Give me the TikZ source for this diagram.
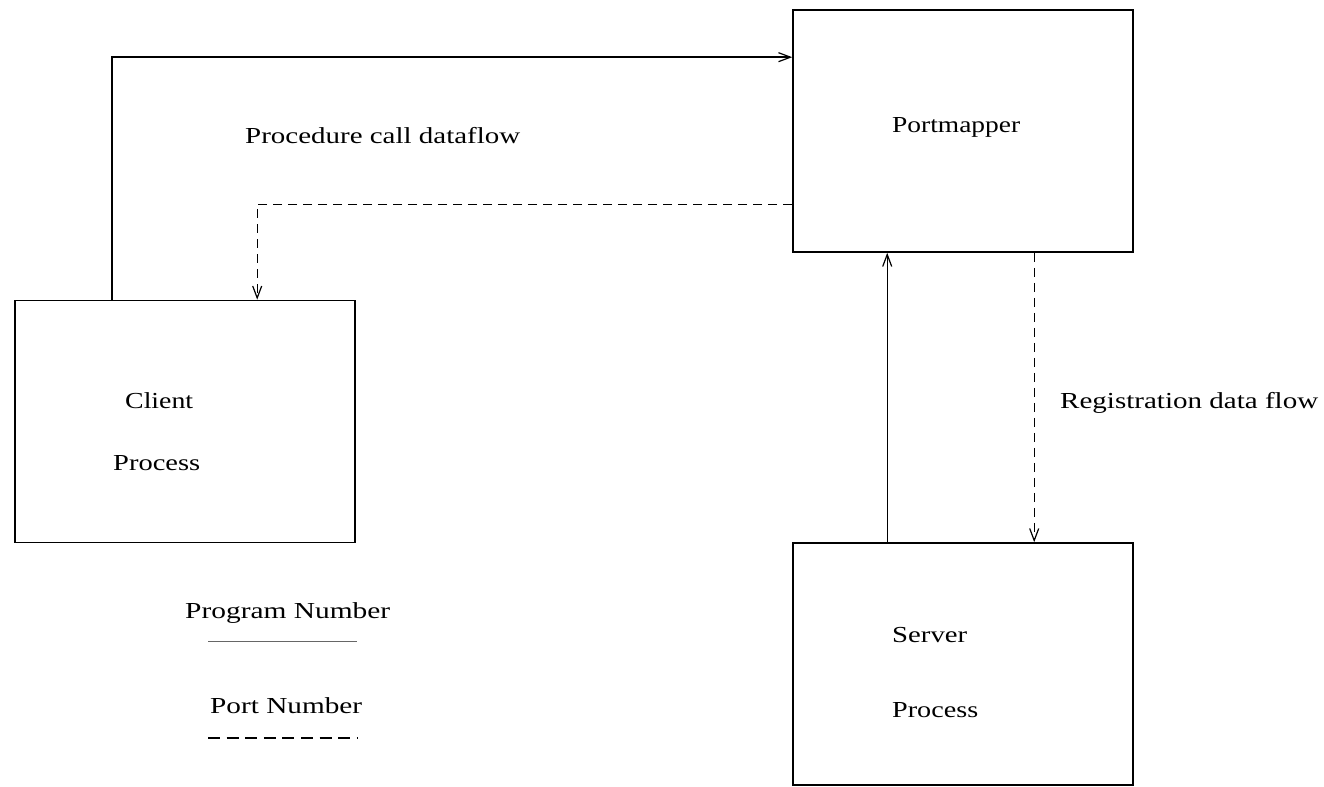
\documentclass[tikz,border=0pt]{standalone}
\usepackage{fontspec}
\setmainfont{Liberation Serif}
\usetikzlibrary{arrows.meta,calc}
% stretch a label horizontally to a given width, keeping its height
\newcommand\wlabel[2]{\resizebox{#1bp}{\height}{#2}}
\begin{document}
\begin{tikzpicture}[x=1bp,y=-1bp,
  box/.style={draw, line width=1.6bp, minimum width=340bp, minimum height=242bp, inner sep=0pt},
  lbl/.style={anchor=base west, inner sep=0pt, font=\fontsize{23}{28}\selectfont},
  flow/.style={line width=1.4bp, -{Straight Barb[length=12bp,width=9bp,line width=1.2bp]}},
  dflow/.style={flow, dash pattern=on 9bp off 6bp}]
\useasboundingbox (0,0) rectangle (1324,786);

% the three processes
\node[box] (pm) at (963,131) {};
\node[box] (client) at (185,421.5) {};
\node[box] (server) at (963,664) {};

% box labels
\node[lbl] (pmtxt) at (892,132) {\wlabel{128}{Portmapper}};
\node[lbl] (cltxt1) at (125,408) {\wlabel{68}{Client}};
\node[lbl] (cltxt2) at (113,470) {\wlabel{87}{Process}};
\node[lbl] (svtxt1) at (892,642) {\wlabel{75}{Server}};
\node[lbl] (svtxt2) at (892,717) {\wlabel{86}{Process}};

% flow labels
\node[lbl] (proclbl) at (245,143) {\wlabel{275}{Procedure call dataflow}};
\node[lbl] (reglbl) at (1060,408) {\wlabel{258}{Registration data flow}};

% procedure call: client -> portmapper, and the port number back
\draw[flow] ($(client.north west)+(98,0)$) |- ($(pm.north west)+(0,48)$);
\draw[dflow] ($(pm.north west)+(0,195)$) -| ($(client.north west)+(243,0)$);

% registration: server -> portmapper, and back
\draw[flow] ($(server.north west)+(95,0)$) -- ($(pm.south west)+(95,0)$);
\draw[dflow] ($(pm.south west)+(242,0)$) -- ($(server.north west)+(242,0)$);

% legend
\node[lbl] (leg1) at (185,618) {\wlabel{205}{Program Number}};
\node[lbl] (leg2) at (210,713) {\wlabel{152}{Port Number}};
\coordinate (l1a) at (208,641);
\coordinate (l1b) at (357,641);
\coordinate (l2a) at (208,738);
\coordinate (l2b) at (357,738);
\draw[line width=1bp, black!60] (l1a) -- (l1b);
\draw[line width=1.4bp, dash pattern=on 12bp off 6.6bp] (l2a) -- (l2b);
\end{tikzpicture}
\end{document}
